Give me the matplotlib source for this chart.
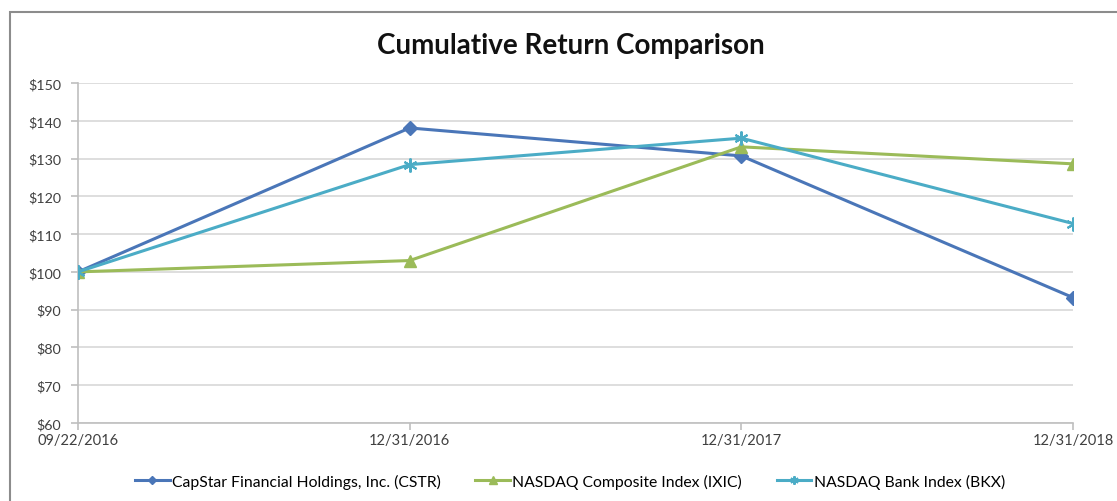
import matplotlib
matplotlib.use("Agg")
import matplotlib.pyplot as plt
from matplotlib.patches import Rectangle

categories = ["09/22/2016", "12/31/2016", "12/31/2017", "12/31/2018"]
cstr = [100.0, 138.1, 130.7, 93.2]
ixic = [100.0, 103.0, 133.1, 128.6]
bkx = [100.0, 128.4, 135.4, 112.8]
series_names = ["CapStar Financial Holdings, Inc. (CSTR)",
                "NASDAQ Composite Index (IXIC)",
                "NASDAQ Bank Index (BKX)"]
yticks = [60, 70, 80, 90, 100, 110, 120, 130, 140, 150]

plt.rcParams['font.family'] = ['Lato', 'DejaVu Sans']

fig = plt.figure(figsize=(11.17, 5.02), dpi=100)
fig.patches.append(Rectangle((10/1117, -0.1), 1.2, 1 - 13/502 + 0.1,
                             transform=fig.transFigure, fill=False,
                             edgecolor='#8c8c8c', linewidth=1.5))
ax = fig.add_axes([78/1117, 1 - 424/502, (1073 - 78)/1117, (424 - 84)/502])

x = list(range(len(categories)))
ax.plot(x, cstr, color='#4a76b8', lw=2.2, marker='D', ms=7, label=series_names[0], zorder=3)
ax.plot(x, ixic, color='#9bbb59', lw=2.2, marker='^', ms=9, label=series_names[1], zorder=3)
ax.plot(x, bkx, color='#4bacc6', lw=2.2, marker=(6, 2, 0), ms=10, mew=1.5,
        label=series_names[2], zorder=4)

ax.set_xlim(0, 3)
ax.set_ylim(60, 150)
ax.set_yticks(yticks)
ax.set_yticklabels([f"${v}" for v in yticks], fontsize=10.3, color='#404040')
ax.set_xticks(x)
ax.set_xticklabels(categories, fontsize=10.5, color='#404040')
ax.grid(axis='y', color='#d4d4d4', lw=1.1)
ax.set_axisbelow(True)
for s in ['top', 'right']:
    ax.spines[s].set_visible(False)
for s in ['left', 'bottom']:
    ax.spines[s].set_color('#bfbfbf')
    ax.spines[s].set_linewidth(1.2)
ax.tick_params(axis='both', colors='#bfbfbf', labelcolor='#404040', length=5, width=1.2)
ax.tick_params(axis='y', pad=7)
ax.tick_params(axis='x', pad=2)

fig.text(571/1117, 1 - 46/502, "Cumulative Return Comparison", ha='center', va='center',
         fontsize=20, fontweight='bold', color='#111111')

fig.legend(loc='center', bbox_to_anchor=(570/1117, 1 - 482/502), ncol=3, frameon=False,
           fontsize=11.3, handlelength=2.2, columnspacing=2.2, handletextpad=0.15, markerscale=0.6)

fig.savefig("out.png", dpi=100)
